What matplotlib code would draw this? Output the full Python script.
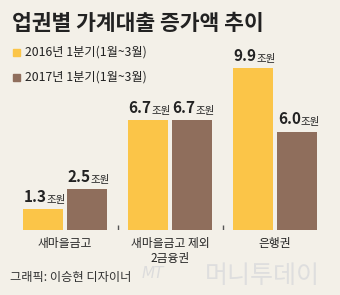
import numpy as np
import matplotlib.pyplot as plt

plt.rcParams['font.family'] = ['Noto Sans CJK KR', 'DejaVu Sans']

# 데이터
categories = ['새마을금고', '새마을금고 제외\n2금융권', '은행권']
q1_2016 = [1.3, 6.7, 9.9]
q1_2017 = [2.5, 6.7, 6.0]
legend_labels = ['2016년 1분기(1월~3월)', '2017년 1분기(1월~3월)']

bg = '#f3f0e8'
yellow = '#fbc548'
brown = '#8f6e5c'
txt = '#222222'

fig = plt.figure(figsize=(3.4, 2.95), dpi=100, facecolor=bg)
ax = fig.add_axes([0, 65 / 295, 1, 230 / 295])
ax.set_facecolor(bg)

x = np.arange(len(categories))
w = 40 / 105
off = 22 / 105
ax.bar(x - off, q1_2016, width=w, color=yellow)
ax.bar(x + off, q1_2017, width=w, color=brown)
ax.set_xlim(-65 / 105, (340 - 65) / 105)
ax.set_ylim(0, 230 / 16.4)
ax.axis('off')

# 그룹 사이 눈금
ax.vlines(x[:-1] + 0.5, 0, 0.3, color='#555555', lw=1)

# 값 라벨
for xs, vals in ((x - off, q1_2016), (x + off, q1_2017)):
    for xi, v in zip(xs, vals):
        ax.text(xi + 0.035, v + 0.25, f'{v:.1f}', ha='right', va='bottom',
                fontsize=11, fontweight='bold', color=txt)
        ax.text(xi + 0.035, v + 0.25, '조원', ha='left', va='bottom',
                fontsize=7.5, color=txt)

# 카테고리 라벨
for xi, c in zip(x, categories):
    ax.text(xi, -0.45, c, ha='center', va='top', fontsize=8.5, color=txt,
            linespacing=1.15, clip_on=False)

# 제목, 범례
fig.text(12 / 340, 1 - 23 / 295, '업권별 가계대출 증가액 추이', ha='left', va='center',
         fontsize=15.5, fontweight='bold', color=txt)
for i, (lab, col) in enumerate(zip(legend_labels, [yellow, brown])):
    yy = 1 - (52 + 25 * i) / 295
    fig.patches.append(plt.Rectangle((13 / 340, yy - 3.5 / 295), 7 / 340, 7 / 295,
                                     transform=fig.transFigure, color=col))
    fig.text(25 / 340, yy, lab, ha='left', va='center', fontsize=8.8, color=txt)

# 출처, 워터마크
fig.text(10 / 340, 1 - 278 / 295, '그래픽: 이승현 디자이너', ha='left', va='center',
         fontsize=8.8, color='#333333')
fig.text(142 / 340, 1 - 274 / 295, 'MT', ha='left', va='center', fontsize=11,
         style='italic', color='#dcdcdc', family=['DejaVu Sans'])
fig.text(205 / 340, 1 - 276 / 295, '머니투데이', ha='left', va='center', fontsize=18,
         color='#dedede')

fig.savefig('out.png', dpi=100, facecolor=bg)
